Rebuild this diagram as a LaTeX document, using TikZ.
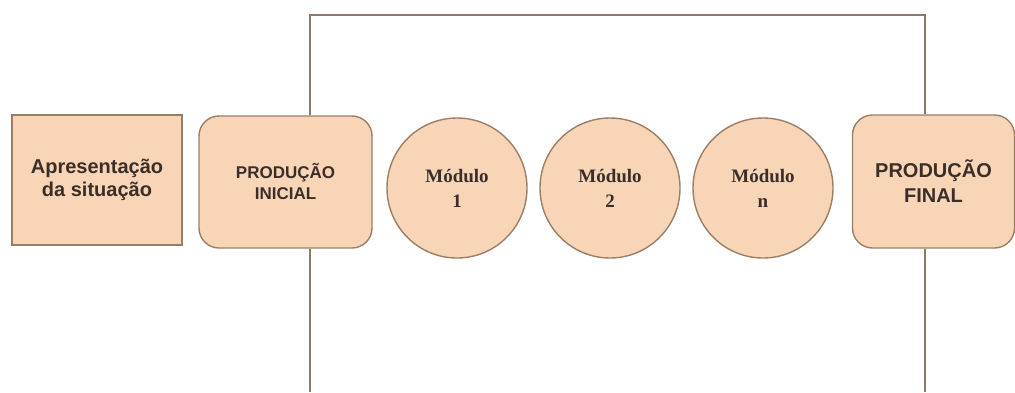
\documentclass[tikz,border=0pt]{standalone}
\usepackage{fontspec}
\setmainfont{Liberation Serif}
\newfontfamily\boxfont{Liberation Sans}
\definecolor{peach}{HTML}{F9D5B8}
\definecolor{rim}{HTML}{9A7F66}
\definecolor{wire}{HTML}{8E7A68}
\definecolor{ink}{HTML}{3A2E28}
\begin{document}
\begin{tikzpicture}[x=1pt,y=-1pt,
  panel/.style={draw=rim, fill=peach, line width=1.4pt, align=center,
    text=ink, inner sep=0pt},
  stage/.style={panel, rounded corners=20pt},
  module/.style={panel, circle, minimum size=140pt,
    font=\bfseries\fontsize{19}{25}\selectfont},
  wireline/.style={draw=wire, line width=2pt}]
  \useasboundingbox (0,0) rectangle (1015,392);

  % boxes of the sequence
  \node[panel, minimum width=170pt, minimum height=130pt,
        font=\boxfont\bfseries\fontsize{20}{23}\selectfont]
        (apres) at (97,180) {Apresentação\\da situação};
  \node[stage, minimum width=173pt, minimum height=132pt,
        font=\boxfont\bfseries\fontsize{17}{21}\selectfont]
        (ini) at (285.5,182) {PRODUÇÃO\\INICIAL};
  \node[module] (m1) at (457,188) {Módulo\\1};
  \node[module] (m2) at (610,188) {Módulo\\2};
  \node[module] (mn) at (763,188) {Módulo\\n};
  \node[stage, minimum width=162pt, minimum height=133pt,
        font=\boxfont\bfseries\fontsize{20}{25}\selectfont]
        (fin) at (933.5,181.5) {PRODUÇÃO\\FINAL};

  % frame linking the initial and final productions
  \coordinate (tl) at (310,15);
  \coordinate (tr) at (925,15);
  \coordinate (bl) at (310,392);
  \coordinate (br) at (925,392);
  \draw[wireline] (ini.north -| tl) -- (tl) -- (tr) -- (fin.north -| tr);
  \draw[wireline] (ini.south -| bl) -- (bl);
  \draw[wireline] (fin.south -| br) -- (br);
\end{tikzpicture}
\end{document}
